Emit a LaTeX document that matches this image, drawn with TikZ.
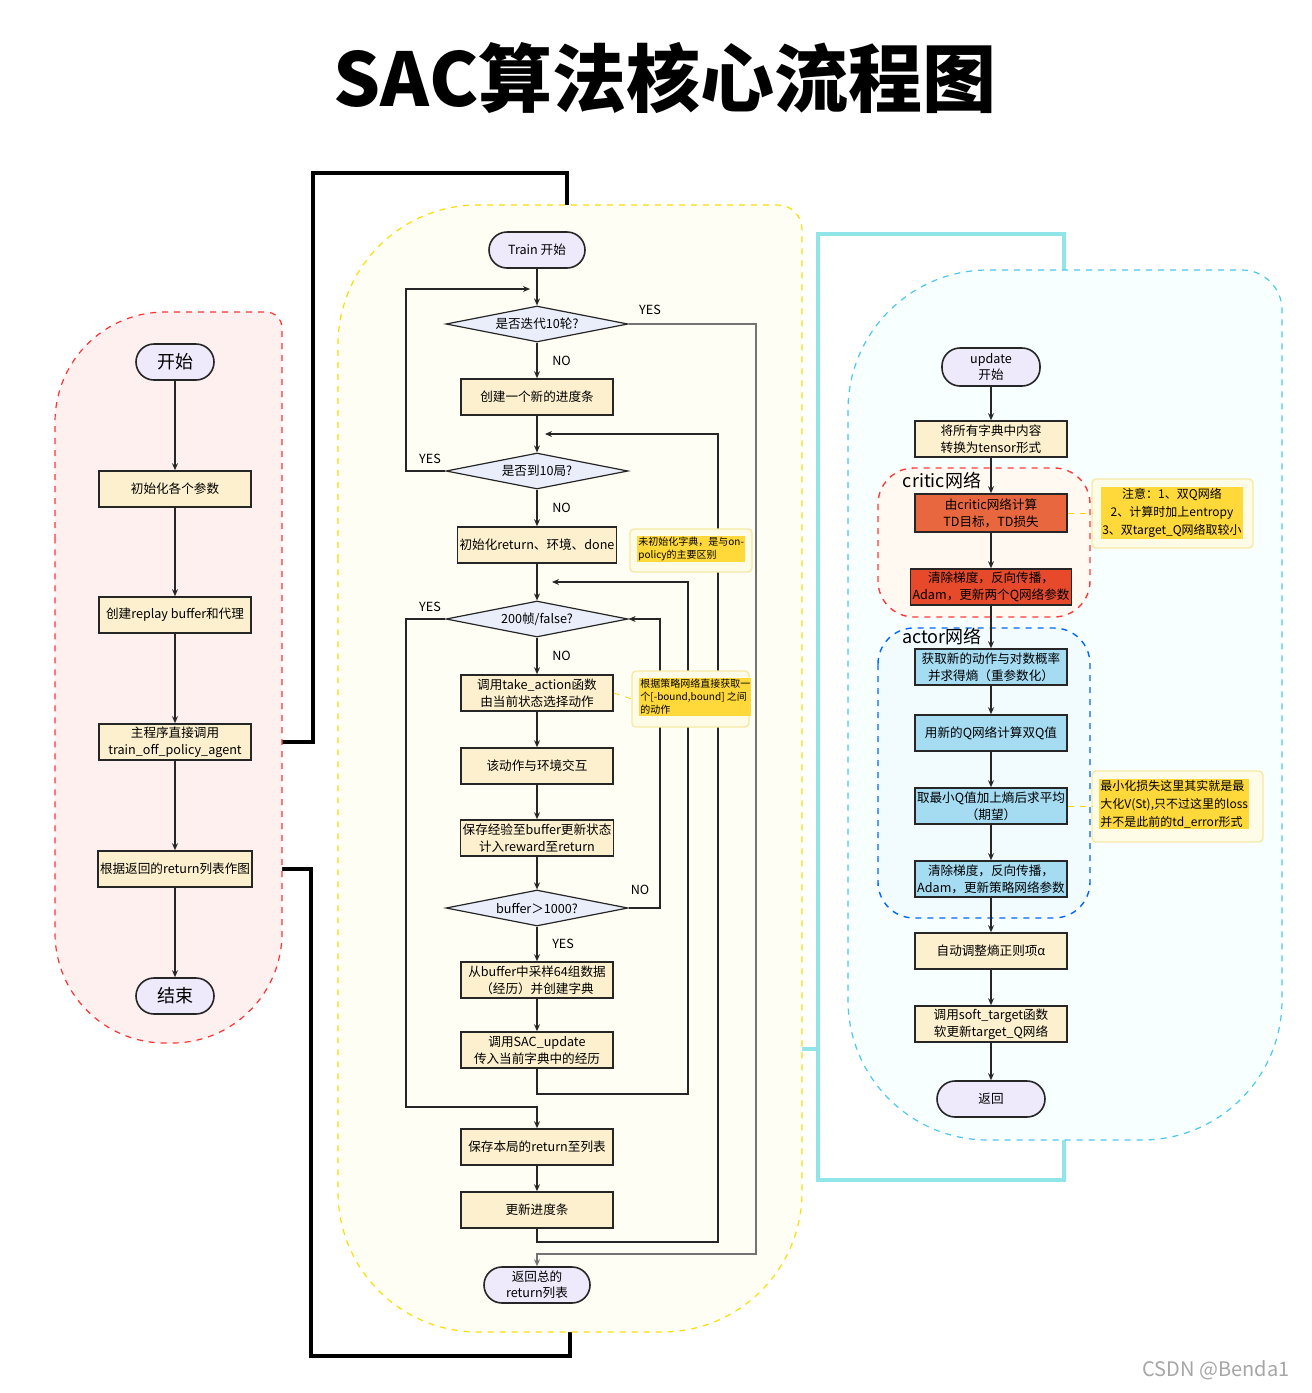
\documentclass[tikz,border=0pt]{standalone}
\usepackage{fontspec}
\setmainfont{Noto Sans CJK SC}
\usetikzlibrary{shapes.geometric,arrows.meta}
\definecolor{boxy}{HTML}{FCF0CE}
\definecolor{termc}{HTML}{EEEAFB}
\definecolor{diac}{HTML}{E9EEFA}
\definecolor{crA}{HTML}{E8673F}
\definecolor{crB}{HTML}{E64A2B}
\definecolor{act}{HTML}{A5DCF2}
\definecolor{notef}{HTML}{FEFBE6}
\definecolor{noteb}{HTML}{F6E9A5}
\definecolor{hl}{HTML}{FFD93A}
\definecolor{ybar}{HTML}{FBE7A1}
\definecolor{cbar}{HTML}{8FE5E8}
\tikzset{
 box/.style={draw=black!85,line width=0.8pt,fill=boxy,minimum width=76pt,minimum height=18pt,align=center,inner sep=1pt,font=\fontsize{6.3}{8.5}\selectfont},
 term/.style={draw=black!85,line width=0.8pt,fill=termc,rounded corners=9pt,minimum width=48pt,minimum height=18pt,align=center,inner sep=1pt,font=\fontsize{6.3}{8}\selectfont},
 dia/.style={draw=black!85,line width=0.6pt,fill=diac,diamond,aspect=5,inner sep=0pt,minimum width=91pt,minimum height=18pt,font=\fontsize{6.3}{8}\selectfont},
 ar/.style={draw=black!85,line width=0.6pt,-{Stealth[length=3.5pt,width=3pt]}},
 ln/.style={draw=black!85,line width=0.6pt},
 lab/.style={font=\fontsize{6.3}{8}\selectfont},
 note/.style={draw=noteb,fill=notef,line width=0.7pt,rounded corners=2pt},
 ntxt/.style={fill=hl,inner sep=0.5pt,align=left,font=\fontsize{5}{6.5}\selectfont},
 bar/.style={line width=2pt,line join=miter},
}
\begin{document}
\begin{tikzpicture}[x=0.5pt,y=-0.5pt]
\useasboundingbox (0,0) rectangle (1312,1393);
\fill[white] (0,0) rectangle (1312,1393);
\node[font=\fontsize{37}{40}\selectfont\bfseries] (title) at (665,78) {SAC算法核心流程图};
% thick connectors
\draw[bar,ybar] (252,742) -- (313,742) -- (313,173) -- (567,173) -- (567,205);
\draw[bar,ybar] (252,869) -- (311,869) -- (311,1356) -- (570,1356) -- (570,1332);
\draw[bar,cbar] (613,1049) -- (818,1049);
\draw[bar,cbar] (1064,270) -- (1064,234) -- (818,234) -- (818,1180) -- (1064,1180) -- (1064,1140);
% panels
\draw[dashed,red!80,fill=red!6,line width=0.6pt] (55,650) [rounded corners=55pt] -- (55,312) [rounded corners=8pt] -- (282,312) [rounded corners=55pt] -- (282,1043) -- (55,1043) -- cycle;
\draw[dashed,yellow!80!orange,fill=yellow!4,line width=0.6pt] (338,700) [rounded corners=70pt] -- (338,205) [rounded corners=12pt] -- (802,205) [rounded corners=70pt] -- (802,1332) -- (338,1332) -- cycle;
\draw[dashed,cyan!70,fill=green!3!cyan!3,line width=0.6pt] (848,700) [rounded corners=70pt] -- (848,270) [rounded corners=20pt] -- (1282,270) [rounded corners=70pt] -- (1282,1140) -- (848,1140) -- cycle;
\draw[dashed,red!70!pink,fill=orange!5,line width=0.7pt,rounded corners=18pt] (878,468) rectangle (1090,617);
\draw[dashed,blue!60!cyan,fill=cyan!5,line width=0.7pt,rounded corners=18pt] (878,628) rectangle (1090,918);
\node[font=\fontsize{9}{10}\selectfont] (crl) at (942,481) {critic网络};
\node[font=\fontsize{9}{10}\selectfont] (acl) at (942,637) {actor网络};
% left column
\node[term,minimum width=39pt,font=\fontsize{9}{10}\selectfont] (s) at (175,362) {开始};
\node[box] (l1) at (175,489) {初始化各个参数};
\node[box] (l2) at (175,615) {创建replay buffer和代理};
\node[box] (l3) at (175,742) {主程序直接调用\\train\_off\_policy\_agent};
\node[box] (l4) at (175,869) {根据返回的return列表作图};
\node[term,minimum width=39pt,font=\fontsize{9}{10}\selectfont] (e) at (175,996) {结束};
\draw[ar] (s) -- (l1); \draw[ar] (l1) -- (l2); \draw[ar] (l2) -- (l3); \draw[ar] (l3) -- (l4); \draw[ar] (l4) -- (e);
% middle column
\node[term] (t) at (537,250) {Train 开始};
\node[dia] (d1) at (537,324) {是否迭代10轮?};
\node[box] (m1) at (537,397) {创建一个新的进度条};
\node[dia] (d2) at (537,471) {是否到10局?};
\node[box] (m2) at (537,545) {初始化return、环境、done};
\node[dia] (d3) at (537,619) {200帧/false?};
\node[box] (m3) at (537,693) {调用take\_action函数\\由当前状态选择动作};
\node[box] (m4) at (537,766) {该动作与环境交互};
\node[box] (m5) at (537,838) {保存经验至buffer更新状态\\计入reward至return};
\node[dia] (d4) at (537,908) {buffer＞1000?};
\node[box] (m6) at (537,980) {从buffer中采样64组数据\\（经历）并创建字典};
\node[box] (m7) at (537,1050) {调用SAC\_update\\传入当前字典中的经历};
\node[box] (m8) at (537,1147) {保存本局的return至列表};
\node[box] (m9) at (537,1210) {更新进度条};
\node[term,minimum width=53pt] (r) at (537,1285) {返回总的\\return列表};
\draw[ar] (t) -- (d1);
\draw[ar] (d1) -- node[lab,right=4pt]{NO} (m1);
\draw[ar] (m1) -- (d2);
\draw[ar] (d2) -- node[lab,right=4pt]{NO} (m2);
\draw[ar] (m2) -- (d3);
\draw[ar] (d3) -- node[lab,right=4pt]{NO} (m3);
\draw[ar] (m3) -- (m4); \draw[ar] (m4) -- (m5); \draw[ar] (m5) -- (d4);
\draw[ar] (d4) -- node[lab,right=4pt]{YES} (m6);
\draw[ar] (m6) -- (m7);
\draw[ar] (m8) -- (m9);
\draw[ar,black!55,line width=0.9pt] (d1.east) -- (756,324) -- (756,1254) -- (537,1254) -- (r.north);
\node[lab] (y1) at (650,310) {YES};
\draw[ar] (d2.west) -- (406,471) -- (406,289) -- (530,289);
\node[lab] (y2) at (430,459) {YES};
\draw[ar] (d3.west) -- (406,619) -- (406,1107) -- (537,1107) -- (m8.north);
\node[lab] (y3) at (430,607) {YES};
\draw[ar] (d4.east) -- (660,908) -- (660,619) -- (d3.east);
\node[lab] (n4) at (640,890) {NO};
\draw[ar] (m7.south) -- (537,1094) -- (688,1094) -- (688,582) -- (552,582);
\draw[ar] (m9.south) -- (537,1242) -- (718,1242) -- (718,434) -- (545,434);
% notes middle
\draw[note] (630,529) rectangle (752,572);
\node[ntxt,anchor=north west] (nt1) at (637,536) {未初始化字典，是与on-\\policy的主要区别};
\draw[note] (632,671) rectangle (749,727);
\node[ntxt,anchor=north west] (nt2) at (639,678) {根据策略网络直接获取一\\个[-bound,bound] 之间\\的动作};
% right column
\node[term,minimum width=49pt,minimum height=19pt] (u) at (991,367) {update\\开始};
\node[box] (r1) at (991,439) {将所有字典中内容\\转换为tensor形式};
\node[box,fill=crA,minimum height=19pt] (r2) at (991,513) {由critic网络计算\\TD目标，TD损失};
\node[box,fill=crB,minimum width=78pt] (r3) at (991,587) {清除梯度，反向传播，\\Adam，更新两个Q网络参数};
\node[box,fill=act] (r4) at (991,667) {获取新的动作与对数概率\\并求得熵（重参数化）};
\node[box,fill=act] (r5) at (991,733) {用新的Q网络计算双Q值};
\node[box,fill=act] (r6) at (991,806) {取最小Q值加上熵后求平均\\（期望）};
\node[box,fill=act] (r7) at (991,879) {清除梯度，反向传播，\\Adam，更新策略网络参数};
\node[box] (r8) at (991,951) {自动调整熵正则项α};
\node[box] (r9) at (991,1024) {调用soft\_target函数\\软更新target\_Q网络};
\node[term,minimum width=54pt] (rr) at (991,1099) {返回};
\draw[ar] (u) -- (r1); \draw[ar] (r1) -- (r2); \draw[ar] (r2) -- (r3); \draw[ar] (r3) -- (r4);
\draw[ar] (r4) -- (r5); \draw[ar] (r5) -- (r6); \draw[ar] (r6) -- (r7); \draw[ar] (r7) -- (r8);
\draw[ar] (r8) -- (r9); \draw[ar] (r9) -- (rr);
\draw[note] (1092,479) rectangle (1253,548);
\node[ntxt,align=center,font=\fontsize{6}{9}\selectfont] (nt3) at (1172,513) {注意：1、双Q网络\\2、计算时加上entropy\\3、双target\_Q网络取较小};
\draw[note] (1092,771) rectangle (1263,842);
\node[ntxt,anchor=north west,font=\fontsize{6}{9}\selectfont] (nt4) at (1099,779) {最小化损失这里其实就是最\\大化V(St),只不过这里的loss\\并不是此前的td\_error形式};
\draw[dashed,yellow!70!orange,line width=0.4pt] (r2.east) -- (1092,513);
\draw[dashed,yellow!70!orange,line width=0.4pt] (r6.east) -- (1092,806);
\draw[dashed,yellow!70!orange,line width=0.4pt] (m3.east) -- (632,699);
\node[text=black!35,font=\fontsize{10}{12}\selectfont] (wm) at (1216,1370) {CSDN @Benda1};
\end{tikzpicture}
\end{document}
